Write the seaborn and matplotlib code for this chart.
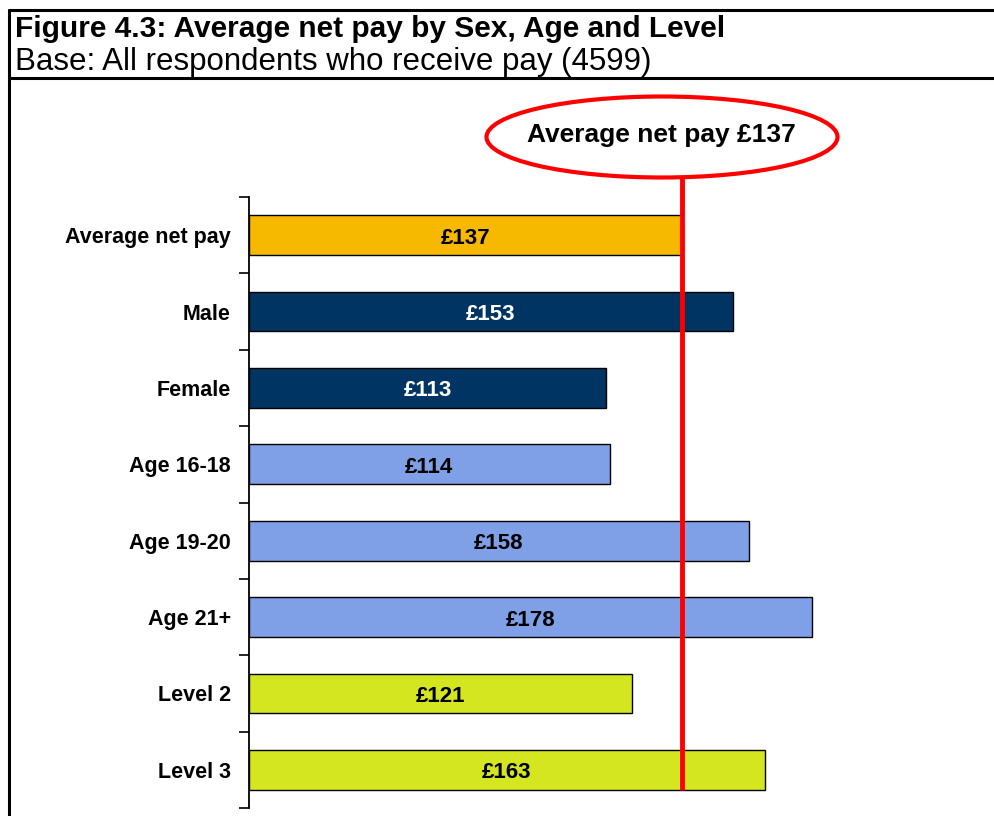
import numpy as np
import matplotlib
matplotlib.use('Agg')
import matplotlib.pyplot as plt
from matplotlib.patches import Ellipse
from matplotlib.lines import Line2D
import seaborn as sns
import pandas as pd

# Chart data
categories = ['Average net pay', 'Male', 'Female', 'Age 16-18',
              'Age 19-20', 'Age 21+', 'Level 2', 'Level 3']
net_pay = [137, 153, 113, 114, 158, 178, 121, 163]
bar_labels = ['£137', '£153', '£113', '£114', '£158', '£178', '£121', '£163']
average = 137

colors = ['#F7B800', '#003462', '#003462', '#7F9FE6',
          '#7F9FE6', '#7F9FE6', '#D4E620', '#D4E620']
label_colors = ['black', 'white', 'white', 'black',
                'black', 'black', 'black', 'black']

sns.set_theme(style='white')
plt.rcParams['font.family'] = ['Liberation Sans', 'DejaVu Sans']
plt.rcParams['text.color'] = 'black'
plt.rcParams['ytick.color'] = 'black'
plt.rcParams['xtick.color'] = 'black'

df = pd.DataFrame({'category': categories, 'pay': net_pay})

W, H = 994, 816
fig = plt.figure(figsize=(W / 100, H / 100), dpi=100)

# axes placed in pixel terms
ax_left, ax_right, ax_top, ax_bottom = 249, 249 + 200 * 3.163, 197, 808
ax = fig.add_axes([ax_left / W, (H - ax_bottom) / H,
                   (ax_right - ax_left) / W, (ax_bottom - ax_top) / H])

sns.barplot(data=df, y='category', x='pay', hue='category', palette=colors,
            order=categories, hue_order=categories, legend=False,
            width=0.52, edgecolor='black', linewidth=1, saturation=1, ax=ax)

ax.set_xlim(0, 200)
ax.set_ylim(7.5, -0.5)
ax.set_xlabel('')
ax.set_ylabel('')
ax.set_xticks([])
for s in ['top', 'right', 'bottom']:
    ax.spines[s].set_visible(False)
ax.spines['left'].set_color('black')
ax.spines['left'].set_linewidth(1.3)

ax.set_yticks(range(len(categories)))
ax.set_yticklabels(categories, fontsize=15.5, fontweight='bold', color='black')
ax.tick_params(axis='y', which='major', length=0, pad=13)
ax.set_yticks(np.arange(-0.5, len(categories), 1.0), minor=True)
ax.tick_params(axis='y', which='minor', length=7, width=1.2, color='black',
               left=True)

for i, (v, lab, c) in enumerate(zip(net_pay, bar_labels, label_colors)):
    ax.text(v / 2, i + 0.04, lab, ha='center', va='center', fontsize=16,
            fontweight='bold', color=c)

# average line
ax.plot([average, average], [7.26, -0.5 - 19 / 76.4], color='#FF0000',
        linewidth=3.5, clip_on=False, solid_capstyle='butt', zorder=5)

# callout ellipse in figure pixels
ell = Ellipse((662 / W, (H - 137) / H), 351 / W, 81 / H,
              transform=fig.transFigure, facecolor='white',
              edgecolor='#FF0000', linewidth=3)
fig.patches.append(ell)
fig.text(661 / W, (H - 135) / H, 'Average net pay £137', ha='center',
         va='center', fontsize=19, fontweight='bold')

# header and frame
fig.text(15 / W, (H - 29) / H, 'Figure 4.3: Average net pay by Sex, Age and Level',
         fontsize=21.5, fontweight='bold', va='center', ha='left')
fig.text(15 / W, (H - 62) / H, 'Base: All respondents who receive pay (4599)',
         fontsize=22.5, va='center', ha='left')
for line in [([9 / W, 1], [(H - 10) / H] * 2),
             ([9 / W, 1], [(H - 78) / H] * 2),
             ([9 / W] * 2, [0, (H - 10) / H])]:
    fig.lines.append(Line2D(line[0], line[1], transform=fig.transFigure,
                            color='black', linewidth=2.2))

fig.savefig('out.png', dpi=100)
